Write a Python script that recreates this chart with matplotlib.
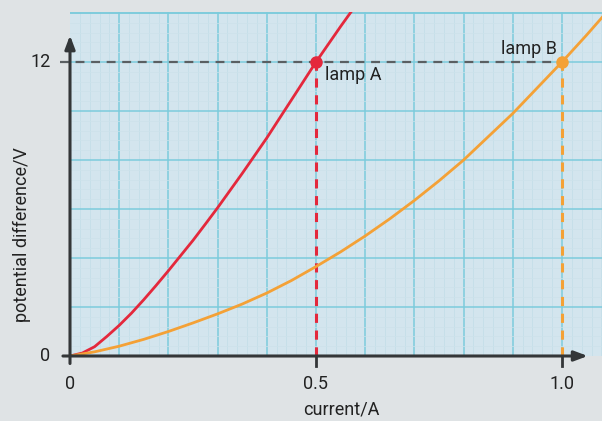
import numpy as np
import matplotlib
matplotlib.use("Agg")
import matplotlib.pyplot as plt

plt.rcParams['font.family'] = ['Roboto', 'DejaVu Sans']

# lamp A (red)
current_a = [0.0, 0.025, 0.05, 0.075, 0.1, 0.125, 0.15, 0.175, 0.2, 0.225, 0.25, 0.275,
             0.3, 0.35, 0.4, 0.45, 0.5, 0.55, 0.575]
pd_a = [0.0, 0.12, 0.38, 0.8, 1.25, 1.75, 2.3, 2.88, 3.48, 4.1, 4.72, 5.38,
        6.05, 7.45, 8.9, 10.45, 12.0, 13.45, 14.15]

# lamp B (orange)
current_b = [0.0, 0.05, 0.1, 0.15, 0.2, 0.25, 0.3, 0.35, 0.4, 0.45, 0.5, 0.55,
             0.6, 0.65, 0.7, 0.75, 0.8, 0.85, 0.9, 0.95, 1.0, 1.05, 1.085]
pd_b = [0.0, 0.17, 0.4, 0.68, 1.0, 1.35, 1.72, 2.12, 2.57, 3.08, 3.65, 4.25,
        4.9, 5.6, 6.35, 7.15, 8.0, 8.95, 9.9, 10.95, 12.0, 13.1, 13.9]

x_ticks = [0, 0.5, 1.0]
x_ticklabels = ['0', '0.5', '1.0']
y_ticks = [0, 12]
y_ticklabels = ['0', '12']

bg = '#dfe3e5'
grid_bg = '#d3e5ee'
red = '#e4283c'
orange = '#f4a136'
axis_col = '#333638'

W, H = 602, 421
fig = plt.figure(figsize=(W / 100, H / 100), dpi=100, facecolor=bg)
ax = fig.add_axes([70 / W, 1 - 356 / H, 532 / W, 344 / H])
ax.set_facecolor(grid_bg)
ax.set_xlim(0, 532 / 492)
ax.set_ylim(0, 344 / 24.5)

# graph paper grid
for x in np.arange(0.02, 1.09, 0.02):
    major = abs(x * 10 - round(x * 10)) < 1e-6
    ax.axvline(x, color='#7ccbdc' if major else '#c6dfe9', lw=1.1 if major else 0.7, zorder=1)
for y in np.arange(0.4, 14.1, 0.4):
    major = abs(y / 2 - round(y / 2)) < 1e-6
    ax.axhline(y, color='#7ccbdc' if major else '#cce2eb', lw=1.1 if major else 0.5, zorder=1)
ax.axhline(14.02, color='#7ccbdc', lw=1.1, zorder=1)

for s in ax.spines.values():
    s.set_visible(False)
ax.set_xticks([])
ax.set_yticks([])

# curves
ax.plot(current_a, pd_a, color=red, lw=2, zorder=4, solid_joinstyle='round')
ax.plot(current_b, pd_b, color=orange, lw=2, zorder=4, solid_joinstyle='round')

# guide lines
ax.plot([-0.02, 1.0], [12, 12], color='#5a5f62', lw=1.6, ls=(0, (4, 3)), zorder=3, clip_on=False)
ax.plot([0.5, 0.5], [0, 12], color=red, lw=2.2, ls=(0, (3, 2.5)), zorder=3)
ax.plot([1.0, 1.0], [0, 12], color=orange, lw=2.2, ls=(0, (3, 2.5)), zorder=3)

ax.plot([0.5], [12], 'o', color=red, ms=8, zorder=5)
ax.plot([1.0], [12], 'o', color=orange, ms=8, zorder=5)

# axes with arrows
ax.annotate('', xy=(1.058, 0), xytext=(-0.02, 0),
            arrowprops=dict(arrowstyle='-|>,head_length=0.8,head_width=0.3', color=axis_col, lw=2.2),
            annotation_clip=False, zorder=6)
ax.annotate('', xy=(0, 13.2), xytext=(0, -0.42),
            arrowprops=dict(arrowstyle='-|>,head_length=0.8,head_width=0.3', color=axis_col, lw=2.2),
            annotation_clip=False, zorder=6)
for x in x_ticks[1:]:
    ax.plot([x, x], [0, -0.42], color=axis_col, lw=2, clip_on=False, zorder=6)

# tick labels
for x, lab in zip(x_ticks, x_ticklabels):
    ax.text(x, -0.78, lab, ha='center', va='top', fontsize=13, color='#222222')
for y, lab in zip(y_ticks, y_ticklabels):
    ax.text(-0.04, y, lab, ha='right', va='center', fontsize=13, color='#222222')

ax.text(0.518, 11.45, 'lamp A', ha='left', va='center', fontsize=13, color='#222222')
ax.text(0.99, 12.55, 'lamp B', ha='right', va='center', fontsize=13, color='#222222')

fig.text(341 / W, 1 - 410 / H, 'current/A', ha='center', va='center', fontsize=13, color='#222222')
fig.text(22 / W, 1 - 235 / H, 'potential difference/V', ha='center', va='center',
         rotation=90, fontsize=13, color='#222222')

fig.savefig('out.png', dpi=100, facecolor=bg)
